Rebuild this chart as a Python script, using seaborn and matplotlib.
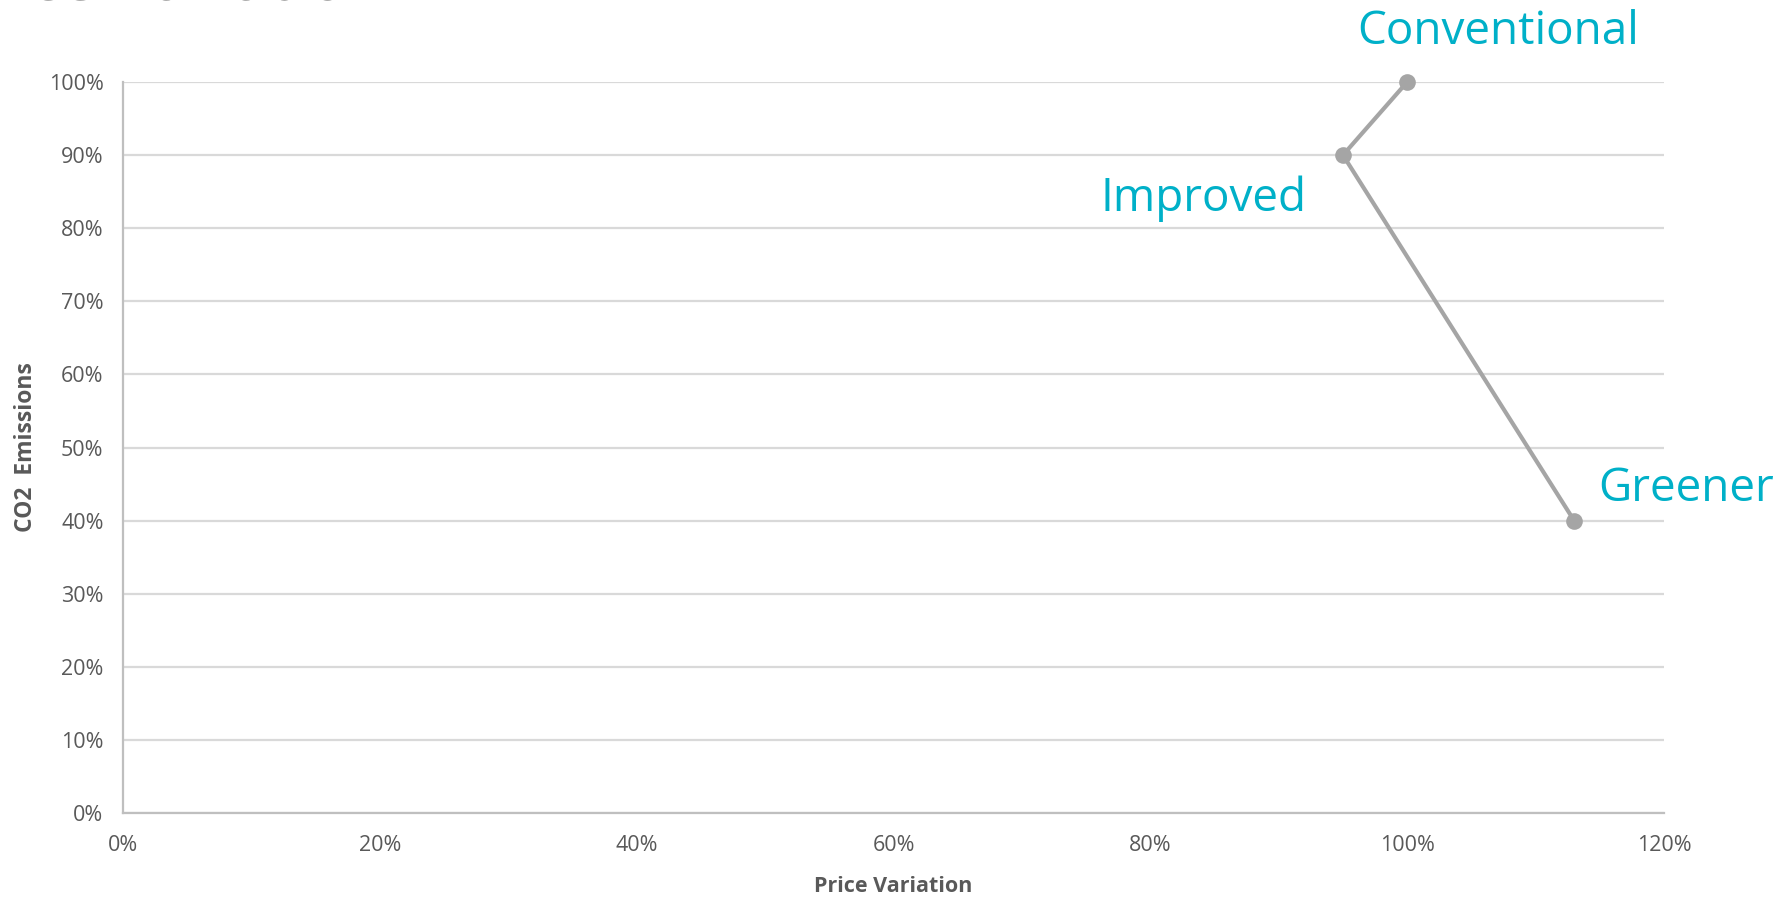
import matplotlib
matplotlib.use("Agg")
import matplotlib.pyplot as plt
import seaborn as sns
import pandas as pd
from matplotlib.ticker import PercentFormatter

# Data
labels = ["Conventional", "Improved", "Greener"]
price_variation = [100, 95, 113]
co2_emissions = [100, 90, 40]
x_ticks = [0, 20, 40, 60, 80, 100, 120]
y_ticks = [0, 10, 20, 30, 40, 50, 60, 70, 80, 90, 100]

df = pd.DataFrame({"label": labels, "price": price_variation, "co2": co2_emissions})

sns.set_theme(style="white")
plt.rcParams["font.family"] = ["Open Sans", "DejaVu Sans"]

fig = plt.figure(figsize=(17.86, 8.98), dpi=100)
ax = fig.add_axes([123 / 1786, 85 / 898, (1664 - 123) / 1786, (813 - 82) / 898])

grid_c = "#D9D9D9"
text_c = "#595959"
line_c = "#A5A5A5"
lab_c = "#00B0C8"

ax.set_xlim(0, 120)
ax.set_ylim(0, 100)
ax.set_yticks(y_ticks)
ax.set_xticks(x_ticks)
ax.yaxis.grid(True, color=grid_c, linewidth=1.6)
ax.xaxis.grid(False)
ax.set_axisbelow(True)

sns.lineplot(data=df, x="price", y="co2", sort=False, ax=ax, color=line_c,
             linewidth=3, marker="o", markersize=12, markeredgewidth=0,
             markerfacecolor=line_c, clip_on=False, zorder=5)

for s in ["top", "right"]:
    ax.spines[s].set_visible(False)
for s in ["left", "bottom"]:
    ax.spines[s].set_color("#BFBFBF")
    ax.spines[s].set_linewidth(1.6)

ax.xaxis.set_major_formatter(PercentFormatter(decimals=0))
ax.yaxis.set_major_formatter(PercentFormatter(decimals=0))
ax.tick_params(axis="both", length=0, labelsize=15.5, colors=text_c)
ax.tick_params(axis="y", pad=14)
ax.tick_params(axis="x", pad=16)

ax.set_xlabel("Price Variation", fontsize=15.5, fontweight="bold", color=text_c, labelpad=14)
ax.set_ylabel("CO2  Emissions", fontsize=16.5, fontweight="bold", color=text_c, labelpad=8)

# point labels (data-unit anchor for each label text)
label_pos = {"Conventional": (107.1, 105.2, "center"),
             "Improved": (92.2, 82.4, "right"),
             "Greener": (114.9, 42.7, "left")}
for lab in labels:
    lx, ly, ha = label_pos[lab]
    ax.text(lx, ly, lab, color=lab_c, fontsize=33, ha=ha, va="baseline", clip_on=False)

# cut-off title fragment at top
fig.text(12 / 1786, 1 + 1 / 898, "ice Variation", fontsize=47, color=text_c,
         ha="left", va="baseline")

fig.savefig("out.png", dpi=100)
